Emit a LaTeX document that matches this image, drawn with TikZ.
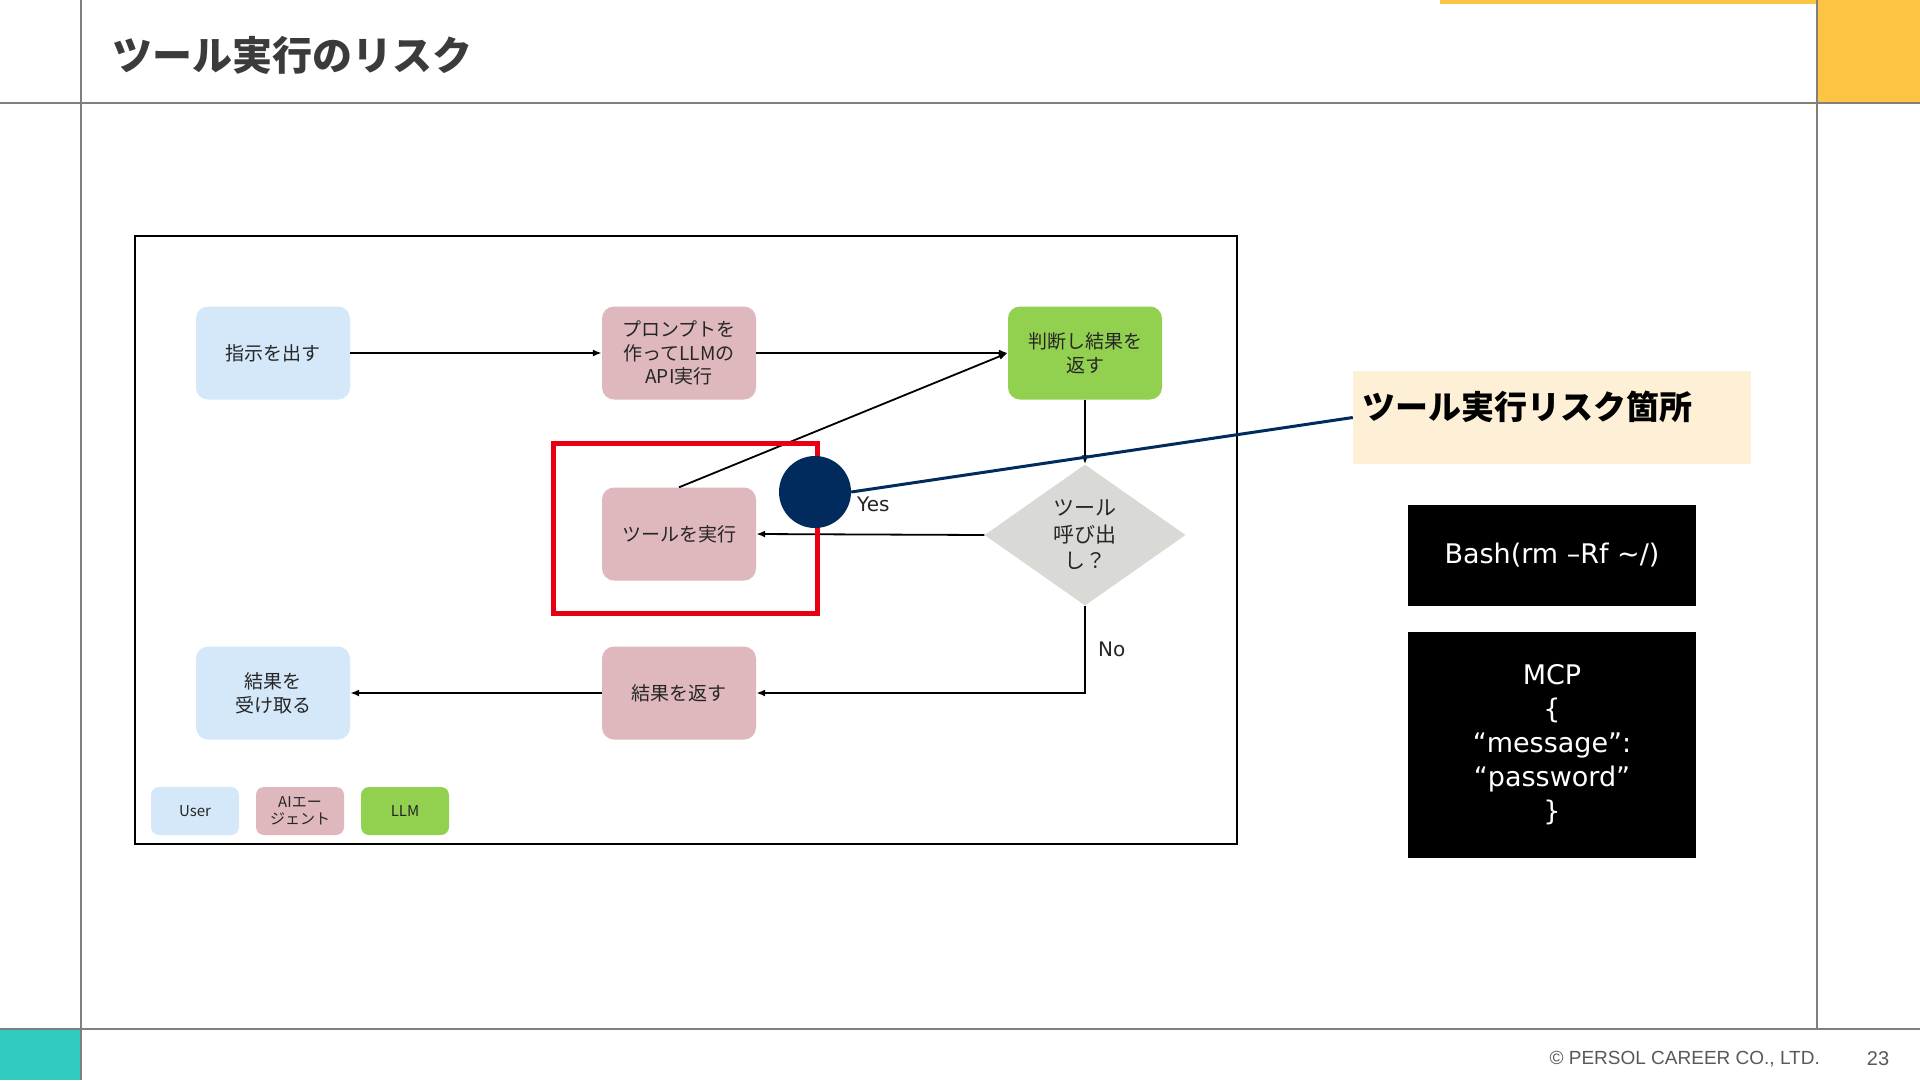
\documentclass[tikz,border=0pt]{standalone}
\usepackage{fontspec}
\setmainfont{DejaVu Sans}
\newfontfamily\jp{Noto Sans CJK JP}
\newfontfamily\liber{Liberation Sans}
\usetikzlibrary{shapes.geometric,arrows.meta}
\definecolor{userblue}{HTML}{D5E8FA}
\definecolor{agentpink}{HTML}{DEB8BD}
\definecolor{llmgreen}{HTML}{92D050}
\definecolor{diagray}{HTML}{D9D9D6}
\definecolor{navy}{HTML}{002B5C}
\definecolor{riskred}{HTML}{E60012}
\definecolor{callfill}{HTML}{FDF0D6}
\definecolor{slidegray}{HTML}{7F7F7F}
\definecolor{gold}{HTML}{FEC444}
\definecolor{tealblock}{HTML}{31CBBF}
\definecolor{titlegray}{HTML}{3B3B3B}
\definecolor{footgray}{HTML}{595959}
\begin{document}
\begin{tikzpicture}[x=1pt,y=-1pt,
  flowbox/.style={rounded corners=12pt, minimum width=154pt, minimum height=93pt, inner sep=0pt, align=center, font=\jp\fontsize{19}{23.5}\selectfont, text=black!85},
  decision/.style={diamond, fill=diagray, minimum width=201pt, minimum height=141pt, inner sep=0pt, align=center, font=\jp\fontsize{21}{26.5}\selectfont, text=black!85},
  legendbox/.style={rounded corners=8pt, minimum width=88pt, minimum height=48pt, inner sep=0pt, align=center, font=\jp\fontsize{15}{17}\selectfont, text=black!85},
  arr/.style={-{Latex[length=9pt,width=7pt]}, line width=1.8pt},
  lbl/.style={inner sep=0pt, font=\fontsize{20}{24}\selectfont, text=black!85},
  codebox/.style={fill=black, text=white, minimum width=288pt, inner sep=0pt, align=center, font=\fontsize{27}{34}\selectfont}
]
\useasboundingbox (0,0) rectangle (1920,1080);
\fill[white] (0,0) rectangle (1920,1080);
% slide frame
\fill[gold] (1440,0) rectangle (1817,3.5);
\fill[gold] (1817,0) rectangle (1920,103);
\fill[tealblock] (0,1030) rectangle (81,1080);
\draw[slidegray, line width=2pt] (0,103) -- (1920,103);
\draw[slidegray, line width=1.5pt] (81,0) -- (81,1080);
\draw[slidegray, line width=1.5pt] (1817,0) -- (1817,1029);
\draw[slidegray, line width=2.5pt] (0,1029) -- (1920,1029);
\node[anchor=west, inner sep=0pt, font=\jp\bfseries\fontsize{40}{48}\selectfont, text=titlegray] (title) at (112,55) {ツール実行のリスク};
\node[anchor=east, inner sep=0pt, font=\liber\fontsize{19}{22}\selectfont, text=footgray] (copy) at (1820,1059) {© PERSOL CAREER CO., LTD.};
\node[inner sep=0pt, font=\liber\fontsize{20}{22}\selectfont, text=footgray] (page) at (1878,1059) {23};
% diagram frame
\draw[line width=2pt] (135,236) rectangle (1237,844);
% flow nodes
\node[flowbox, fill=userblue] (shiji) at (273,353) {指示を出す};
\node[flowbox, fill=agentpink] (prompt) at (679,353) {プロンプトを\\作ってLLMの\\API実行};
\node[flowbox, fill=llmgreen] (handan) at (1085,353) {判断し結果を\\返す};
\node[flowbox, fill=agentpink] (tool) at (679,534) {ツールを実行};
\node[decision] (dia) at (1085,535) {ツール\\呼び出\\し？};
\node[flowbox, fill=agentpink] (kekka) at (679,693) {結果を返す};
\node[flowbox, fill=userblue] (uketoru) at (273,693) {結果を\\受け取る};
% legend
\node[legendbox, fill=userblue] (lguser) at (195,811) {User};
\node[legendbox, fill=agentpink] (lgagent) at (300,811) {AIエー\\ジェント};
\node[legendbox, fill=llmgreen] (lgllm) at (405,811) {LLM};
% connectors
\draw[arr] (shiji.east) -- (prompt.west);
\draw[arr] (prompt.east) -- (handan.west);
\draw[arr] (tool.north) -- (handan.west);
\draw[arr] (handan.south) -- (dia.north);
\draw[arr] (dia.west) -- (tool.east);
\draw[arr] (dia.south) |- (kekka.east);
\draw[arr] (kekka.west) -- (uketoru.east);
\node[lbl, anchor=west] (yes) at (857,504) {Yes};
\node[lbl, anchor=west] (no) at (1098,649) {No};
% risk highlight
\node[draw=riskred, line width=5pt, minimum width=264pt, minimum height=170pt, inner sep=0pt] (riskbox) at (685,528) {};
\node[fill=callfill, minimum width=398pt, minimum height=93pt, inner sep=0pt] (callout) at (1552,417.5) {};
\node[anchor=west, inner sep=0pt, font=\jp\bfseries\fontsize{33}{40}\selectfont, text=black] (calltext) at (1362,407) {ツール実行リスク箇所};
\node[circle, fill=navy, minimum size=72pt, inner sep=0pt] (pin) at (815,492) {};
\draw[navy, line width=3pt] (pin.east) -- (callout.west);
% code examples
\node[codebox, minimum height=101pt] (bash) at (1552,555) {Bash(rm –Rf \textasciitilde/)};
\node[codebox, minimum height=226pt] (mcp) at (1552,745) {MCP\\\{\\“message”:\\“password”\\\}};
\end{tikzpicture}
\end{document}
